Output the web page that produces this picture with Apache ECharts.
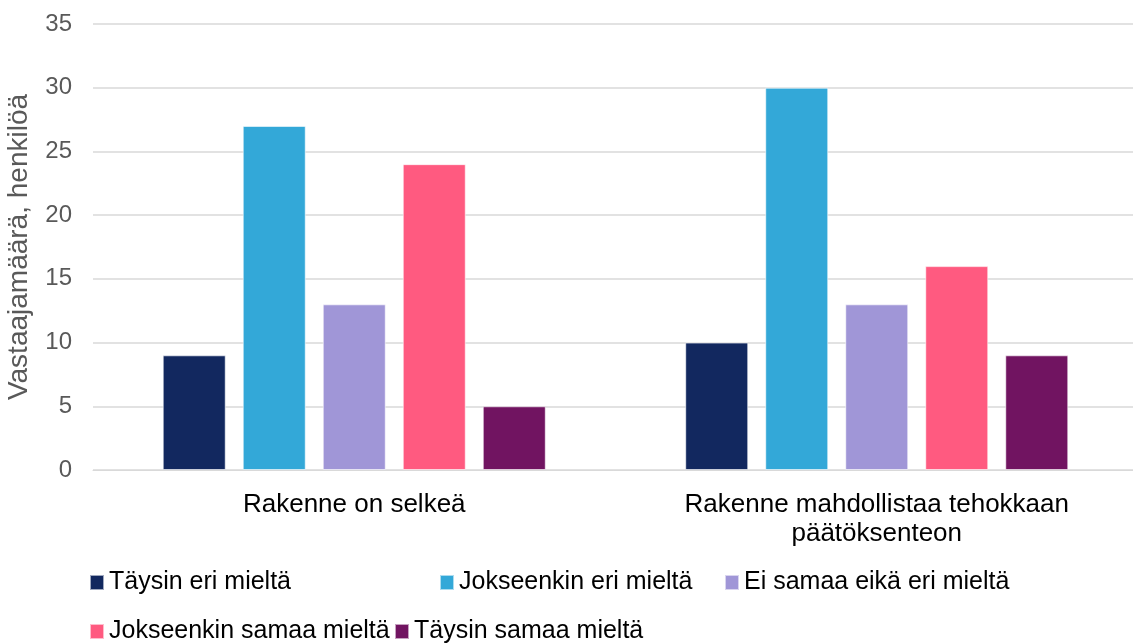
<!DOCTYPE html>
<html>
<head>
<meta charset="utf-8">
<script src="https://cdn.jsdelivr.net/npm/echarts@6/dist/echarts.min.js"></script>
<style>
  html, body { margin: 0; padding: 0; background: #fff; }
  #main { width: 1133px; height: 644px; }
</style>
</head>
<body>
<div id="main"></div>
<script>
// kategoriat ja sarjat
var categories = ['Rakenne on selkeä', 'Rakenne mahdollistaa tehokkaan\npäätöksenteon'];
var seriesNames = ['Täysin eri mieltä', 'Jokseenkin eri mieltä', 'Ei samaa eikä eri mieltä', 'Jokseenkin samaa mieltä', 'Täysin samaa mieltä'];
var taysinEri = [9, 10];
var jokseenkinEri = [27, 30];
var eiSamaaEikaEri = [13, 13];
var jokseenkinSamaa = [24, 16];
var taysinSamaa = [5, 9];
var colors = ['#12285f', '#33a8d8', '#a096d7', '#ff5a80', '#711461'];

var values = [taysinEri, jokseenkinEri, eiSamaaEikaEri, jokseenkinSamaa, taysinSamaa];
var font = 'Arial, "Liberation Sans", sans-serif';

// legendin paikat (kaksi riviä kuten alkuperäisessä)
var legendPos = [[89, 570], [439, 570], [724, 570], [89, 619], [394, 619]];

var series = seriesNames.map(function (name, i) {
  return {
    name: name,
    type: 'bar',
    data: values[i],
    barWidth: 63,
    barGap: '27%',
    itemStyle: { color: colors[i], borderColor: 'rgba(255,255,255,0.6)', borderWidth: 1 }
  };
});

var legends = seriesNames.map(function (name, i) {
  return {
    data: [name],
    left: legendPos[i][0],
    top: legendPos[i][1],
    itemWidth: 14,
    itemHeight: 15,
    itemGap: 0,
    padding: 0,
    icon: 'rect',
    selectedMode: false,
    textStyle: { fontFamily: font, fontSize: 25, color: '#000' }
  };
});

var option = {
  animation: false,
  color: colors,
  grid: { left: 93, top: 24, width: 1045, height: 446, containLabel: false, outerBoundsMode: 'none' },
  legend: legends,
  xAxis: {
    type: 'category',
    data: categories,
    axisLine: { show: true, lineStyle: { color: '#d9d9d9', width: 1 } },
    axisTick: { show: false },
    axisLabel: { fontFamily: font, fontSize: 26, color: '#000', margin: 20, lineHeight: 29 }
  },
  yAxis: {
    type: 'value',
    min: 0,
    max: 35,
    interval: 5,
    name: 'Vastaajamäärä, henkilöä',
    nameLocation: 'middle',
    nameGap: 60,
    nameRotate: 90,
    nameTextStyle: { fontFamily: font, fontSize: 28, color: '#595959' },
    axisLine: { show: false },
    axisTick: { show: false },
    axisLabel: { fontFamily: font, fontSize: 24, color: '#595959', margin: 21 },
    splitLine: { lineStyle: { color: '#d9d9d9', width: 1.5 } }
  },
  series: series
};

var chart = echarts.init(document.getElementById('main'));
chart.setOption(option);
</script>
</body>
</html>
